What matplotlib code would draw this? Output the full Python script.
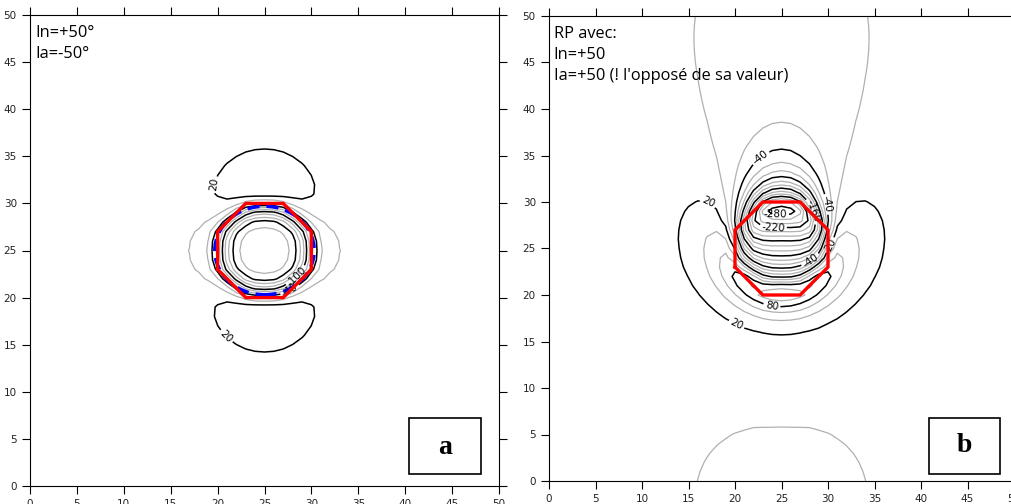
import numpy as np
import matplotlib.pyplot as plt
from matplotlib.path import Path
from matplotlib.patches import Ellipse, Rectangle

# --- corps source (octogone rouge) ---
oct_x = [20, 20, 23, 27, 30, 30, 27, 23]
oct_y = [23, 27, 30, 30, 27, 23, 20, 20]

# --- parametres du modele ---
inc_n = 50.0     # In
inc_a = -50.0    # Ia (vraie valeur)
inc_rp = 50.0    # Ia utilisee pour la RP (opposee)
z_top, z_bot = 1.5, 4.0
b_min = -295.0

# contour bleu tirete (carte a)
blue_center = (25.0, 25.0)
blue_width, blue_height = 10.6, 9.4

levels = np.arange(-300, 221, 20)
major = [lv for lv in levels if (lv - 20) % 60 == 0]
minor = [lv for lv in levels if (lv - 20) % 60 != 0]

labels_a = [(18.7, 32.0), (20.0, 15.0), (28.3, 22.4), (27.7, 20.8)]
labels_b = [(22.2, 35.4), (17.3, 30.2), (28.6, 29.1), (29.5, 29.7), (24.3, 28.3),
            (24.1, 26.8), (28.3, 23.5), (30.2, 25.4), (23.8, 18.2), (20.0, 16.5)]

# --- calcul par FFT sur la grille 0..50 ---
gx = np.arange(0, 51, 1.0)
n = gx.size
XX, YY = np.meshgrid(gx, gx)
poly = Path(np.column_stack([oct_x, oct_y]))
H = poly.contains_points(np.column_stack([XX.ravel(), YY.ravel()]), radius=0.01).reshape(n, n).astype(float)

kx = 2 * np.pi * np.fft.fftfreq(n, 1.0)
KX, KY = np.meshgrid(kx, kx)
K = np.hypot(KX, KY)
U = np.divide(KY, K, out=np.zeros_like(K), where=K > 0)


def theta(inc):
    r = np.radians(inc)
    return np.sin(r) + 1j * np.cos(r) * U


E = np.exp(-K * z_top) - np.exp(-K * z_bot)
A = theta(inc_a) * theta(inc_n) * E * np.fft.fft2(H)
fa = np.real(np.fft.ifft2(A))
fb = np.real(np.fft.ifft2(A / theta(inc_rp) ** 2))
scale = b_min / fb.min()
fa *= scale
fb *= scale

fig = plt.figure(figsize=(10.11, 5.04), dpi=100)
W, Hh = 1011, 504
ax1 = fig.add_axes([30 / W, 1 - 486 / Hh, 469 / W, 471 / Hh])
ax2 = fig.add_axes([549 / W, 1 - 481 / Hh, 465 / W, 465 / Hh])

for ax, f, lab in [(ax1, fa, labels_a), (ax2, fb, labels_b)]:
    ax.contour(gx, gx, f, levels=minor, colors='#b0b0b0', linewidths=0.9, linestyles='solid')
    cs = ax.contour(gx, gx, f, levels=major, colors='black', linewidths=1.1, linestyles='solid')
    ax.clabel(cs, fmt='%d', fontsize=7.5, manual=lab, inline_spacing=2)
    ax.plot(oct_x + oct_x[:1], oct_y + oct_y[:1], color='red', lw=2.4, zorder=4)
    ax.set_xlim(0, 50)
    ax.set_ylim(0, 50)
    ax.set_xticks(range(0, 51, 5))
    ax.set_yticks(range(0, 51, 5))
    ax.tick_params(direction='out', top=True, right=True, labelsize=7.5, length=6,
                   labelcolor='#222222')

ax1.add_patch(Ellipse(blue_center, blue_width, blue_height, fill=False, ec='blue', lw=2.5,
                      ls=(0, (3.5, 2)), zorder=3))
ax1.text(0.012, 0.978, 'In=+50°\nIa=-50°', transform=ax1.transAxes, va='top', ha='left',
         fontsize=11.8, family='Open Sans', linespacing=1.4)
ax2.text(0.01, 0.978, "RP avec:\nIn=+50\nIa=+50 (! l'opposé de sa valeur)", transform=ax2.transAxes,
         va='top', ha='left', fontsize=11.8, family='Open Sans', linespacing=1.4)
ax1.add_patch(Rectangle((40.4, 1.3), 7.7, 5.9, fill=False, ec='black', lw=1.2))
ax1.text(44.25, 4.1, 'a', ha='center', va='center', fontsize=20, family='Liberation Serif', weight='bold')
ax2.add_patch(Rectangle((40.9, 0.75), 7.6, 6.05, fill=False, ec='black', lw=1.2))
ax2.text(44.7, 3.8, 'b', ha='center', va='center', fontsize=20, family='Liberation Serif', weight='bold')
plt.savefig('out.png', dpi=100)
